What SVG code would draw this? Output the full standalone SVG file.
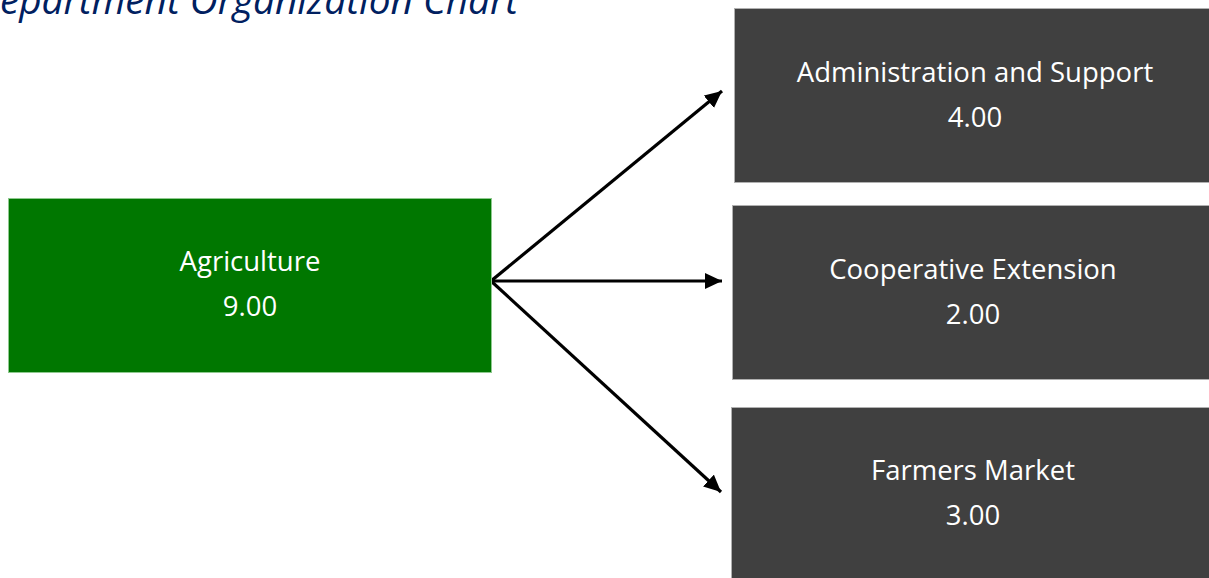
<svg xmlns="http://www.w3.org/2000/svg" width="1209" height="578" viewBox="0 0 1209 578">
  <style>
    .title { font-family: "Open Sans", "Liberation Sans", sans-serif; font-style: italic; font-size: 38px; fill: #002060; }
    .box-root { fill: #007700; stroke: #8fc98f; stroke-width: 1; }
    .box-unit { fill: #404040; stroke: #b0b0b0; stroke-width: 1; }
    .label { font-family: "Open Sans", "Liberation Sans", sans-serif; font-size: 27.5px; fill: #ffffff; text-anchor: middle; }
    .link { stroke: #000000; stroke-width: 3.2; fill: none; marker-end: url(#arrow); }
  </style>
  <defs>
    <marker id="arrow" markerUnits="userSpaceOnUse" markerWidth="20" markerHeight="18" refX="17" refY="8" orient="auto">
      <path d="M0,0 L17,8 L0,16 Z" fill="#000000"/>
    </marker>
  </defs>

  <rect width="1209" height="578" fill="#ffffff"/>

  <!-- page heading, partly above the top edge -->
  <text class="title" x="-26" y="14" textLength="544" lengthAdjust="spacingAndGlyphs">Department Organization Chart</text>

  <g id="connectors">
    <line class="link" x1="491" y1="281" x2="722" y2="91"/>
    <line class="link" x1="491" y1="281" x2="722" y2="281"/>
    <line class="link" x1="491" y1="281" x2="721" y2="492"/>
  </g>

  <g id="node-agriculture">
    <rect class="box-root" x="8.5" y="198.5" width="483" height="174"/>
    <text class="label" x="250" y="271">Agriculture</text>
    <text class="label" x="250" y="316">9.00</text>
  </g>

  <g id="node-admin">
    <rect class="box-unit" x="734.5" y="8.5" width="483" height="174"/>
    <text class="label" x="975" y="82">Administration and Support</text>
    <text class="label" x="975" y="127">4.00</text>
  </g>

  <g id="node-coop">
    <rect class="box-unit" x="732.5" y="205.5" width="483" height="174"/>
    <text class="label" x="973" y="279">Cooperative Extension</text>
    <text class="label" x="973" y="324">2.00</text>
  </g>

  <g id="node-farmers">
    <rect class="box-unit" x="731.5" y="407.5" width="483" height="174"/>
    <text class="label" x="973" y="480">Farmers Market</text>
    <text class="label" x="973" y="525">3.00</text>
  </g>
</svg>
